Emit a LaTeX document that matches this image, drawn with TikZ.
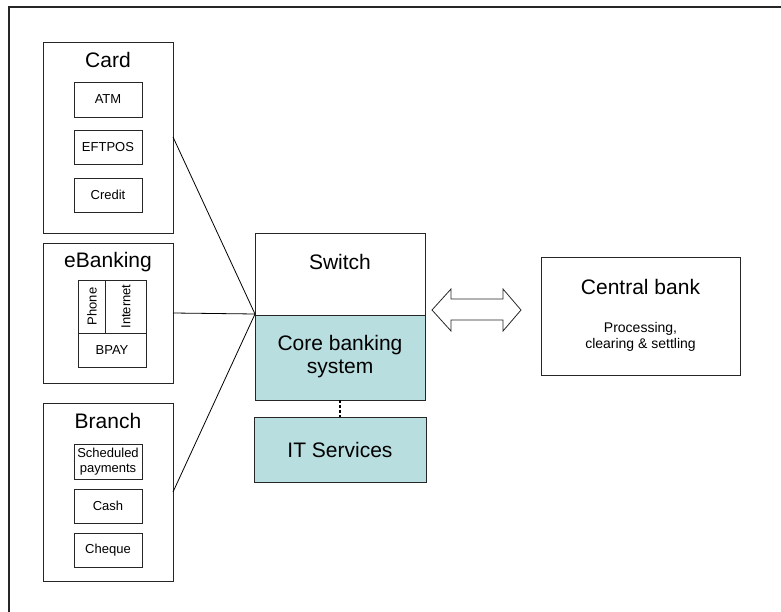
\documentclass[tikz,border=0pt]{standalone}
\usepackage{fontspec}
\setmainfont{Liberation Sans}
\definecolor{coreteal}{RGB}{185,222,224}
\tikzset{
  box/.style={draw=black!85, line width=0.9pt, inner sep=0pt},
  big/.style={font=\fontsize{21}{24}\selectfont},
  small/.style={font=\fontsize{13}{15}\selectfont},
  mid/.style={font=\fontsize{14}{17}\selectfont},
  wire/.style={draw=black, line width=0.8pt},
}
\newcommand{\boxat}[5]{% name, x1, y1, x2, y2
  \path[box] (#2,#3) rectangle (#4,#5);
  \coordinate (#1) at ({(#2+#4)/2},{(#3+#5)/2});}
\begin{document}
\begin{tikzpicture}[x=1pt,y=-1pt]
\useasboundingbox (0,0) rectangle (781,612);
\clip (0,0) rectangle (781,612);
% outer frame (runs past the page on the right and bottom)
\draw[line width=1.2pt, black!85] (9,7) rectangle (800,640);

% Card group
\draw[box] (43,42) rectangle (173,233);
\node[big] (cardt) at (108,60) {Card};
\draw[box] (74,82) rectangle (142,117);
\node[small] (atm) at (108,99.5) {ATM};
\draw[box] (74,130) rectangle (142,164);
\node[small] (eftpos) at (108,147) {EFTPOS};
\draw[box] (74,178) rectangle (142,212);
\node[small] (credit) at (108,195) {Credit};
\coordinate (cardR) at (173,137);

% eBanking group
\draw[box] (43,243) rectangle (173,383);
\node[big] (ebt) at (108,262) {eBanking};
\draw[box] (78,280) rectangle (146,367);
\draw[box] (105,280) -- (105,333);
\draw[box] (78,333) -- (146,333);
\node[small, rotate=90] (phone) at (92,306.5) {Phone};
\node[small, rotate=90] (internet) at (126,306.5) {Internet};
\node[small] (bpay) at (112,350) {BPAY};
\coordinate (ebR) at (173,313);

% Branch group
\draw[box] (43,403) rectangle (173,581);
\node[big] (brt) at (108,421) {Branch};
\draw[box] (74,444) rectangle (142,479);
\node[small, align=center, font=\fontsize{13}{14.5}\selectfont] (sched) at (108,461.5) {Scheduled\\payments};
\draw[box] (74,489) rectangle (142,523);
\node[small] (cash) at (108,506) {Cash};
\draw[box] (74,533) rectangle (142,567);
\node[small] (cheque) at (108,550) {Cheque};
\coordinate (brR) at (173,492);

% Switch / core banking / IT services stack
\draw[box] (255,233) rectangle (425,315);
\node[big] (switch) at (340,262) {Switch};
\draw[box, fill=coreteal] (255,315) rectangle (425,400);
\node[big, align=center, font=\fontsize{21}{23}\selectfont] (core) at (340,357) {Core banking\\system};
\draw[box, fill=coreteal] (254,417) rectangle (426,482);
\node[big] (its) at (340,450) {IT Services};
\coordinate (hub) at (255,314);
\coordinate (coreB) at (340,400);
\coordinate (itsT) at (340,417);

% connectors from channels to the hub
\draw[wire] (cardR) -- (hub);
\draw[wire] (ebR) -- (hub);
\draw[wire] (brR) -- (hub);
\draw[line width=1.4pt, dash pattern=on 3pt off 2pt] (coreB) -- (itsT);

% two-way block arrow
\draw[line width=0.8pt, black!85, fill=white]
  (432,310) -- (451,289) -- (451,299) -- (503,299) -- (503,289)
  -- (521,310) -- (503,331) -- (503,320) -- (451,320) -- (451,331) -- cycle;

% Central bank
\draw[box] (541,257) rectangle (740,375);
\node[big] (cb) at (640.5,287) {Central bank};
\node[mid, align=center, font=\fontsize{14}{16.5}\selectfont] (proc) at (640.5,337) {Processing,\\clearing \& settling};
\end{tikzpicture}
\end{document}
